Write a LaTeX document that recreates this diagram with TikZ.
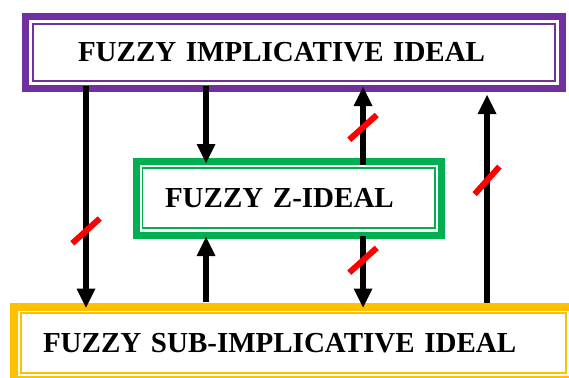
\documentclass[tikz,border=0pt]{standalone}
\usepackage{fontspec}
\setmainfont{Liberation Serif}
\usetikzlibrary{arrows.meta,calc}
\definecolor{cpurple}{HTML}{7030A0}
\definecolor{cgreen}{HTML}{00B050}
\definecolor{corange}{HTML}{FFC000}
\definecolor{cred}{HTML}{FF0000}
\tikzset{
  box/.style={draw, rectangle, anchor=north west, align=left, font=\fontsize{29}{30}\selectfont\bfseries, inner ysep=0pt},
  arr/.style={line width=6pt, -{Triangle[length=19pt,width=19pt,line width=0pt]}},
  cut/.style={fill=cred, rectangle, minimum width=37pt, minimum height=6pt, inner sep=0pt, draw=none}
}
\begin{document}
\begin{tikzpicture}[x=1pt,y=-1pt]
\useasboundingbox (0,0) rectangle (569,377);
\begin{scope}
\clip (0,0) rectangle (569,377);
% boxes (outer edges at anchor)
\node[box, draw=cpurple, line width=7pt, outer sep=3.5pt, text width=432pt, inner xsep=52.5pt, minimum height=72pt] (top) at (22,13) {FUZZY IMPLICATIVE IDEAL};
\draw[cpurple, line width=1.8pt] (33,24) rectangle (555,81);
\node[box, draw=cgreen, line width=7pt, outer sep=3.5pt, text width=247.5pt, inner xsep=29pt, minimum height=74pt] (zid) at (132.5,157.5) {FUZZY Z-IDEAL};
\draw[cgreen, line width=1.8pt] (142.5,168) rectangle (435,228);
\node[box, draw=corange, line width=8pt, outer sep=4pt, text width=501pt, inner xsep=29pt, minimum height=73.5pt] (bot) at (10,302.5) {FUZZY SUB-IMPLICATIVE IDEAL};
\draw[corange, line width=1.8pt] (21,313) rectangle (566,373);
\end{scope}
% columns
\coordinate (c1) at (86,0);
\coordinate (c2) at (206,0);
\coordinate (c3) at (363,0);
\coordinate (c4) at (487,0);
% arrows
\draw[arr, shorten <=-6pt, shorten >=-5pt] (c1 |- top.south) -- node[cut, pos=0.66, rotate=42]{} (c1 |- bot.north);
\draw[arr, shorten <=-6pt, shorten >=-5.5pt] (c2 |- top.south) -- (c2 |- zid.north);
\draw[arr, shorten <=-7.5pt, shorten >=-5pt] (c3 |- zid.north) -- node[cut, pos=0.46, rotate=42]{} (c3 |- top.south);
\draw[arr, shorten <=-0.5pt, shorten >=3pt] (c4 |- bot.north) -- node[cut, pos=0.58, rotate=48]{} (c4 |- top.south);
\draw[arr, shorten <=0.5pt, shorten >=-1.5pt] (c2 |- bot.north) -- (c2 |- zid.south);
\draw[arr, shorten <=-2.5pt, shorten >=-5pt] (c3 |- zid.south) -- node[cut, pos=0.34, rotate=42]{} (c3 |- bot.north);
\end{tikzpicture}
\end{document}
